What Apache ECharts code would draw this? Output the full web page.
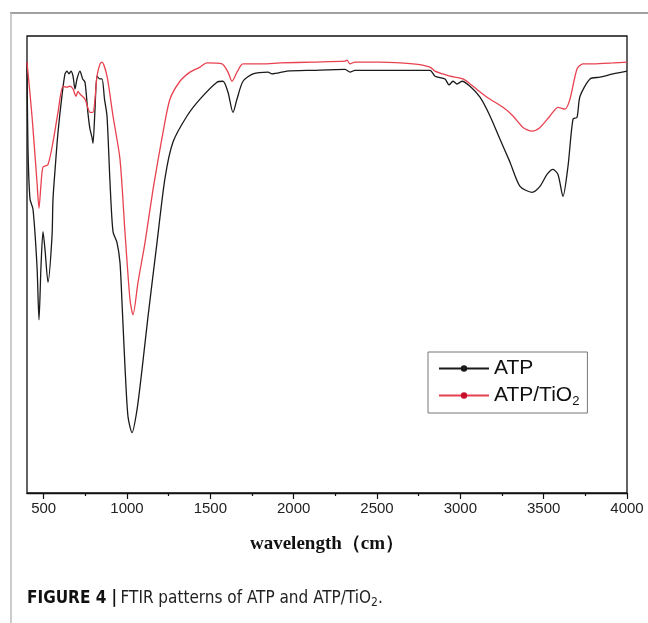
<!DOCTYPE html>
<html lang="en">
<head>
    <meta charset="utf-8">
    <title>FTIR patterns of ATP and ATP/TiO2</title>
    <style>
        html, body { margin: 0; padding: 0; background: #fff; }
        #ftir { width: 648px; height: 623px; }
    </style>
</head>
<body>
<div id="ftir"></div>
<script src="https://cdn.jsdelivr.net/npm/echarts@6/dist/echarts.min.js"></script>
<script>
// values: wavenumber (cm-1) / transmittance (arbitrary %)
var atpWave = [400, 406, 418, 436, 460, 472, 484, 496, 508, 526, 550, 556, 571, 586, 610, 628, 640, 652, 664, 676, 688, 700, 718, 734, 748, 766, 778, 790, 796, 808, 820, 835, 850, 865, 880, 898, 916, 940, 958, 970, 988, 1006, 1030, 1060, 1090, 1126, 1180, 1228, 1276, 1360, 1438, 1540, 1576, 1606, 1636, 1660, 1696, 1756, 1846, 1870, 1960, 2116, 2308, 2338, 2368, 2518, 2638, 2818, 2848, 2908, 2932, 2956, 2980, 3010, 3058, 3118, 3178, 3238, 3298, 3358, 3430, 3478, 3520, 3556, 3586, 3616, 3646, 3676, 3700, 3718, 3778, 3838, 3916, 4000];
var atpTrans = [94.3, 75.2, 64.3, 62.1, 49.6, 37.9, 49.6, 57.2, 53.3, 46.1, 56.1, 64.3, 72, 78.9, 87, 91.7, 92.3, 91.7, 92.3, 91.2, 88.4, 90.6, 92.3, 90.6, 89.9, 83, 79.6, 77.8, 76.5, 84.0, 91.2, 90.6, 90.6, 86.2, 82.5, 68.0, 57.2, 54.8, 50.4, 41.7, 27.6, 16.7, 13.2, 18.2, 27.0, 38.6, 54.8, 68.9, 76.8, 82.5, 86.2, 89.9, 90.1, 87.7, 83.3, 86.2, 90.1, 91.7, 92.1, 91.7, 92.3, 92.5, 92.7, 92.1, 92.5, 92.5, 92.5, 92.5, 91.2, 90.6, 89.3, 90.1, 89.5, 90.1, 89.0, 86.6, 82.5, 77.4, 72.4, 67.1, 65.8, 67.1, 69.7, 70.8, 69.7, 64.9, 71.5, 81.8, 82.2, 86.8, 90.6, 91.0, 91.7, 92.3];

var tio2Wave = [400, 430, 460, 472, 484, 496, 526, 556, 586, 616, 640, 658, 676, 694, 706, 718, 748, 778, 796, 808, 820, 838, 850, 880, 916, 958, 988, 1018, 1036, 1066, 1108, 1156, 1216, 1258, 1318, 1378, 1438, 1480, 1570, 1606, 1630, 1660, 1696, 1816, 1918, 2116, 2308, 2320, 2338, 2368, 2518, 2716, 2818, 2848, 2896, 2938, 3016, 3076, 3160, 3256, 3316, 3376, 3430, 3478, 3538, 3586, 3628, 3658, 3700, 3736, 3796, 3916, 4000];
var tio2Trans = [94.3, 82.5, 68.0, 62.3, 67.5, 71.3, 71.9, 76.8, 83.3, 89.0, 88.8, 89.0, 88.4, 86.8, 87.9, 87.3, 86.2, 83.3, 83.3, 86.2, 91.2, 93.9, 94.3, 91.2, 82.5, 73.0, 57.0, 42.3, 39.0, 46.1, 54.8, 66.4, 78.9, 86.2, 90.1, 92.1, 93.2, 94.1, 93.9, 92.1, 90.1, 92.1, 93.9, 93.9, 94.1, 94.3, 94.5, 94.7, 93.9, 94.3, 94.3, 93.9, 93.2, 92.3, 91.7, 91.2, 90.6, 89.0, 86.6, 84.4, 82.5, 80.0, 79.2, 80.0, 82.5, 84.4, 84.0, 86.2, 92.8, 93.9, 93.9, 94.1, 94.3];

var majorTicks = [500, 1000, 1500, 2000, 2500, 3000, 3500, 4000];
var minorTicks = [750, 1250, 1750, 2250, 2750, 3250, 3750];

function pairs(xs, ys) {
    var out = [];
    for (var i = 0; i < xs.length; i++) {
        out.push([xs[i], ys[i]]);
    }
    return out;
}

var chart = echarts.init(document.getElementById('ftir'), null, { renderer: 'canvas' });
var narrow = '"Liberation Sans Narrow", "DejaVu Sans Condensed", "Liberation Sans", sans-serif';

var option = {
    backgroundColor: '#fff',
    animation: false,
    grid: {
        left: 27, right: 21, top: 36, bottom: 130,
        show: true, borderColor: '#111', borderWidth: 1.3
    },
    legend: {
        orient: 'vertical',
        left: 428, top: 352,
        padding: [6, 8, 5, 10],
        itemGap: 6,
        itemWidth: 50, itemHeight: 8,
        borderColor: '#777', borderWidth: 1,
        textStyle: {
            fontFamily: 'Liberation Sans', fontSize: 21, color: '#111',
            rich: {
                sub: { fontFamily: 'Liberation Sans', fontSize: 13, color: '#111', verticalAlign: 'bottom', padding: [12, 0, 0, 0] }
            }
        },
        formatter: function (name) {
            return name === 'ATP/TiO2' ? 'ATP/TiO{sub|2}' : name;
        },
        data: ['ATP', 'ATP/TiO2']
    },
    xAxis: [{
        type: 'value', min: 400, max: 4000,
        name: 'wavelength（cm）',
        nameLocation: 'middle', nameGap: 42,
        nameTextStyle: { fontFamily: 'Liberation Serif', fontWeight: 'bold', fontSize: 19, color: '#111' },
        splitLine: { show: false },
        axisLine: { lineStyle: { color: '#111', width: 1.3 } },
        axisTick: { customValues: majorTicks, length: 6, lineStyle: { color: '#111', width: 1.2 } },
        axisLabel: {
            customValues: majorTicks, fontFamily: 'Liberation Sans', fontSize: 15, color: '#222', margin: 8,
            formatter: function (v) { return String(v); }
        }
    }, {
        type: 'value', min: 400, max: 4000, position: 'bottom',
        splitLine: { show: false },
        axisLine: { show: false },
        axisTick: { customValues: minorTicks, length: 3, lineStyle: { color: '#111', width: 1.2 } },
        axisLabel: { show: false }
    }],
    yAxis: { type: 'value', min: 0, max: 100, show: false },
    series: [{
        name: 'ATP', type: 'line',
        data: pairs(atpWave, atpTrans),
        smooth: 0.25, showSymbol: false, symbol: 'circle', symbolSize: 5,
        itemStyle: { color: '#1a1a1a' },
        lineStyle: { color: '#1a1a1a', width: 1.3 }
    }, {
        name: 'ATP/TiO2', type: 'line',
        data: pairs(tio2Wave, tio2Trans),
        smooth: 0.25, showSymbol: false, symbol: 'circle', symbolSize: 5,
        itemStyle: { color: '#c8102e' },
        lineStyle: { color: '#e8414f', width: 1.3 }
    }],
    graphic: [
        // figure frame: dark top rule and light left rule
        { type: 'line', shape: { x1: 10, y1: 13, x2: 648, y2: 13 }, style: { stroke: '#444', lineWidth: 1.2 } },
        { type: 'line', shape: { x1: 11, y1: 13, x2: 11, y2: 623 }, style: { stroke: '#bbb', lineWidth: 1.5 } },
        {
            type: 'text', left: 27, top: 590,
            style: {
                text: '{b|FIGURE 4 |} {n|FTIR patterns of ATP and ATP/TiO}{s|2}{n|.}',
                rich: {
                    b: { fontFamily: narrow, fontWeight: 'bold', fontSize: 17, fill: '#111' },
                    n: { fontFamily: narrow, fontSize: 17, fill: '#222' },
                    s: { fontFamily: narrow, fontSize: 12, fill: '#222', verticalAlign: 'bottom', padding: [8, 0, 0, 0] }
                }
            }
        }
    ]
};

chart.setOption(option);
</script>
</body>
</html>
